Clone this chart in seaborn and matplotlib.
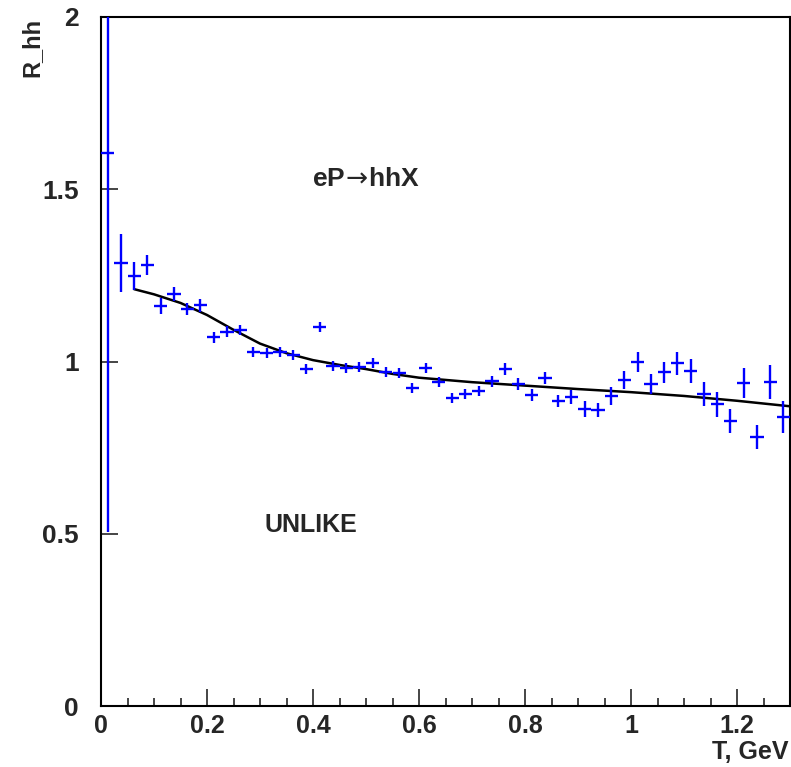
import seaborn as sns
import matplotlib.pyplot as plt
import pandas as pd
import numpy as np
from matplotlib.ticker import MultipleLocator

# bin centres (T, GeV)
t_bins = [0.0125, 0.0375, 0.0625, 0.0875, 0.1125, 0.1375, 0.1625, 0.1875,
          0.2125, 0.2375, 0.2625, 0.2875, 0.3125, 0.3375, 0.3625, 0.3875,
          0.4125, 0.4375, 0.4625, 0.4875, 0.5125, 0.5375, 0.5625, 0.5875,
          0.6125, 0.6375, 0.6625, 0.6875, 0.7125, 0.7375, 0.7625, 0.7875,
          0.8125, 0.8375, 0.8625, 0.8875, 0.9125, 0.9375, 0.9625, 0.9875,
          1.0125, 1.0375, 1.0625, 1.0875, 1.1125, 1.1375, 1.1625, 1.1875,
          1.2125, 1.2375, 1.2625, 1.2875]
r_hh = [1.605, 1.286, 1.248, 1.280, 1.161, 1.196, 1.152, 1.163,
        1.071, 1.086, 1.091, 1.027, 1.024, 1.028, 1.019, 0.978,
        1.100, 0.987, 0.981, 0.984, 0.996, 0.970, 0.967, 0.923,
        0.981, 0.940, 0.894, 0.906, 0.914, 0.943, 0.978, 0.935,
        0.903, 0.952, 0.885, 0.897, 0.862, 0.859, 0.900, 0.946,
        0.999, 0.935, 0.969, 0.995, 0.972, 0.906, 0.876, 0.827,
        0.938, 0.781, 0.940, 0.839]
r_err = [1.100, 0.083, 0.040, 0.028, 0.022, 0.020, 0.018, 0.018,
         0.016, 0.016, 0.015, 0.015, 0.015, 0.015, 0.015, 0.015,
         0.015, 0.015, 0.015, 0.015, 0.015, 0.015, 0.015, 0.015,
         0.015, 0.015, 0.015, 0.015, 0.015, 0.016, 0.017, 0.017,
         0.017, 0.018, 0.018, 0.019, 0.022, 0.020, 0.025, 0.027,
         0.030, 0.030, 0.030, 0.033, 0.034, 0.034, 0.036, 0.035,
         0.044, 0.035, 0.050, 0.046]

# model curve
t_fit = [0.0625, 0.10, 0.15, 0.20, 0.25, 0.30, 0.35, 0.40, 0.45, 0.50,
         0.55, 0.60, 0.70, 0.80, 0.90, 1.00, 1.10, 1.20, 1.30]
r_fit = [1.210, 1.195, 1.170, 1.135, 1.092, 1.052, 1.024, 1.004, 0.990, 0.978,
         0.964, 0.953, 0.940, 0.930, 0.920, 0.911, 0.900, 0.886, 0.870]

df_pts = pd.DataFrame({'T': t_bins, 'R': r_hh, 'err': r_err})
df_fit = pd.DataFrame({'T': t_fit, 'R': r_fit})

sns.set_style("ticks")
plt.rcParams['font.family'] = ['Liberation Sans', 'DejaVu Sans']
plt.rcParams['mathtext.fontset'] = 'custom'
plt.rcParams['mathtext.bf'] = 'Liberation Sans:bold'

fig = plt.figure(figsize=(7.91, 7.67), dpi=100)
ax = fig.add_axes([101 / 791, 61 / 767, 689 / 791, 689 / 767])

ax.errorbar(df_pts['T'], df_pts['R'], xerr=0.0125, yerr=df_pts['err'],
            fmt='none', ecolor='#0000ff', elinewidth=1.7, capsize=0, zorder=3)
sns.lineplot(data=df_fit, x='T', y='R', color='black', linewidth=1.8, ax=ax,
             zorder=2)

ax.set_xlim(0, 1.3)
ax.set_ylim(0, 2)
ax.set_xlabel('')
ax.set_ylabel('')

ax.xaxis.set_minor_locator(MultipleLocator(0.05))
ax.tick_params(axis='both', which='both', direction='in', top=False, right=False)
ax.tick_params(axis='x', which='major', length=12, width=1.2, pad=6)
ax.tick_params(axis='x', which='minor', length=6, width=1.2)
ax.tick_params(axis='y', which='major', length=12, width=1.2, pad=16)
ax.set_xticks([0, 0.2, 0.4, 0.6, 0.8, 1.0, 1.2])
ax.set_xticklabels(['0', '0.2', '0.4', '0.6', '0.8', '1', '1.2'])
ax.set_yticks([0, 0.5, 1.0, 1.5, 2.0])
ax.set_yticklabels(['0', '0.5', '1', '1.5', '2'])
for lab in ax.get_xticklabels():
    lab.set_fontweight('bold')
    lab.set_fontsize(18)
for lab in ax.get_yticklabels():
    lab.set_fontweight('bold')
    lab.set_fontsize(19)
for s in ax.spines.values():
    s.set_linewidth(1.5)
    s.set_color('black')

ax.text(0.399, 1.53, r'eP$\!\rightarrow\!$hhX', fontsize=19, fontweight='bold',
        ha='left', va='center')
ax.text(0.308, 0.525, 'UNLIKE', fontsize=18, fontweight='bold',
        ha='left', va='center')

fig.text(789 / 791, 1 - 752 / 767, 'T, GeV', fontsize=18, fontweight='bold',
         ha='right', va='center')
fig.text(32 / 791, 1 - 18 / 767, 'R_hh', fontsize=17, fontweight='bold',
         ha='center', va='top', rotation=90)

fig.savefig('out.png', dpi=100)
